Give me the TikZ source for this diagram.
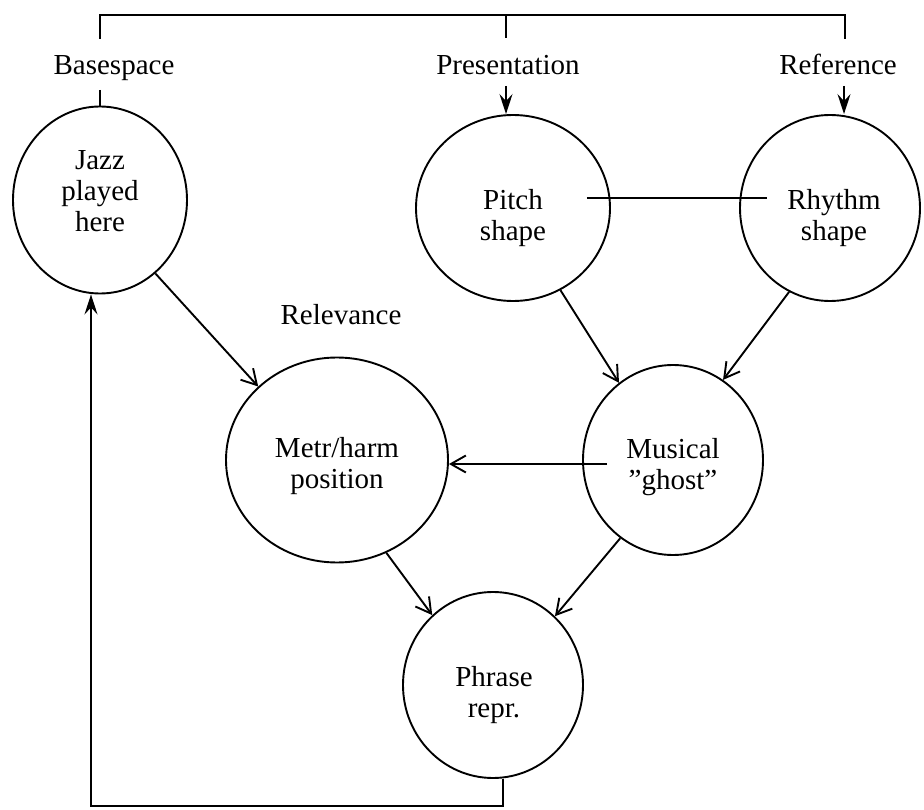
\documentclass[tikz,border=0pt]{standalone}
\usepackage{fontspec}
\setmainfont{Liberation Serif}
\usetikzlibrary{shapes.geometric,arrows.meta,calc}
\begin{document}
\begin{tikzpicture}[x=1pt,y=-1pt,line width=1.9pt,
  bub/.style={draw,ellipse,inner sep=0pt},
  txt/.style={align=center,inner sep=0pt,font=\fontsize{29}{31}\selectfont},
  lbl/.style={inner sep=0pt,anchor=base,font=\fontsize{29}{31}\selectfont},
  arr/.style={-{Straight Barb[length=15pt,width=17pt,line width=1.9pt]}},
  varr/.style={-{Stealth[length=20pt,width=13pt,inset=7pt]}}]
\useasboundingbox (0,0) rectangle (924,810);
\fill[white] (0,0) rectangle (924,810);
% circles
\node[bub,minimum width=174pt,minimum height=187pt] (jazz) at (100,200) {};
\node[bub,minimum width=194pt,minimum height=186pt] (pitch) at (513,208) {};
\node[bub,minimum width=180pt,minimum height=186pt] (rhythm) at (830,208) {};
\node[bub,minimum width=222pt,minimum height=205pt] (metr) at (337,460) {};
\node[bub,minimum width=180pt,minimum height=190pt] (ghost) at (673,460) {};
\node[bub,minimum width=180pt,minimum height=186pt] (phrase) at (493,685) {};
% texts in circles
\node[txt] (jazzt) at (100,191) {Jazz\\played\\here};
\node[txt] (pitcht) at (513,218) {Pitch\\shape};
\node[txt] (rhythmt) at (834,218) {Rhythm\\shape};
\node[txt] (metrt) at (337,466) {Metr/harm\\position};
\node[txt] (ghostt) at (673,467) {Musical\\”ghost”};
\node[txt] (phraset) at (494,695) {Phrase\\repr.};
% labels
\node[lbl] (basespace) at (114,75) {Basespace};
\node[lbl] (presentation) at (508,75) {Presentation};
\node[lbl] (reference) at (838,75) {Reference};
\node[lbl] (relevance) at (341,325) {Relevance};
% top bracket
\coordinate (tl) at (100,15);
\coordinate (tm) at (506,15);
\coordinate (tr) at (845,15);
\coordinate (tlb) at (100,38);
\coordinate (tmb) at (506,38);
\coordinate (trb) at (845,38);
\draw[line cap=rect] (tlb) -- (tl) -- (tr) -- (trb);
\draw (tm) -- (tmb);
\coordinate (bs) at (100,90);
\coordinate (ps) at (506,86);
\coordinate (rs) at (844,86);
\draw (bs) -- (jazz.north);
\draw[varr] (ps) -- (pitch.north -| ps);
\draw[varr] (rs) -- (rhythm.north -| rs);
% pitch - rhythm
\draw ([xshift=-24pt,yshift=10pt]pitch.east) -- ([xshift=28pt,yshift=10pt]rhythm.west);
% diagonal arrows
\draw[arr] (jazz.-53) -- (metr.137);
\draw[arr] (pitch.-60) -- (ghost.125);
\draw[arr] (rhythm.-116) -- (ghost.58);
\draw[arr] (metr.-62) -- (phrase.131);
\draw[arr] (ghost.-124) -- (phrase.48);
\draw[arr] ([xshift=25pt,yshift=-4pt]ghost.west) -- ([yshift=-4pt]metr.east);
% feedback loop
\coordinate (br) at (503,806);
\coordinate (bl) at (91,806);
\draw[varr] (phrase.south -| br) -- (br) -- (bl) -- (jazz.south -| bl);
\end{tikzpicture}
\end{document}
